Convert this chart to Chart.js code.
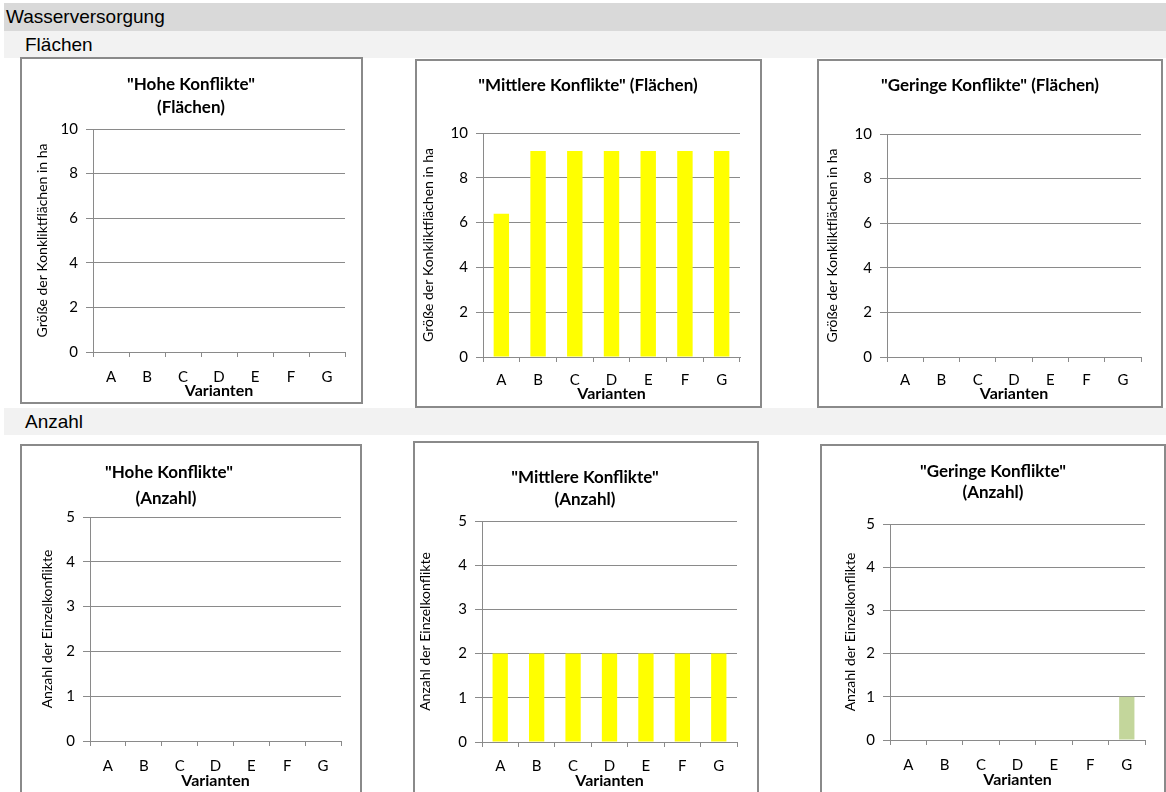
<!DOCTYPE html>
<html lang="de">
<head>
    <meta charset="UTF-8">
    <title>Wasserversorgung</title>
    <script src="https://cdn.jsdelivr.net/npm/chart.js"></script>
    <style>
        html, body { margin: 0; padding: 0; background: #fff; }
        body { width: 1166px; height: 792px; position: relative; overflow: hidden; font-family: "Liberation Sans", Arial, sans-serif; }
        .band { position: absolute; left: 4px; width: 1162px; color: #000; box-sizing: border-box; }
        .band.main { top: 3px; height: 28px; background: #d9d9d9; font-size: 19px; line-height: 28px; padding-left: 2px; }
        .band.sub { height: 27px; background: #f2f2f2; font-size: 19px; line-height: 27px; padding-left: 21px; }
        .panel { position: absolute; border: 2px solid #8a8a8a; box-sizing: border-box; background: #fff; }
        .panel canvas { position: absolute; left: -2px; top: -2px; }
    </style>
</head>
<body>
    <div class="band main">Wasserversorgung</div>
    <div class="band sub" style="top:31px">Flächen</div>
    <div class="band sub" style="top:408px">Anzahl</div>

    <div class="panel" id="p1"><canvas id="c1"></canvas></div>
    <div class="panel" id="p2"><canvas id="c2"></canvas></div>
    <div class="panel" id="p3"><canvas id="c3"></canvas></div>
    <div class="panel" id="p4"><canvas id="c4"></canvas></div>
    <div class="panel" id="p5"><canvas id="c5"></canvas></div>
    <div class="panel" id="p6"><canvas id="c6"></canvas></div>

    <script>
    // Daten
    const varianten = ['A', 'B', 'C', 'D', 'E', 'F', 'G'];

    const hoheFlaechen     = [0, 0, 0, 0, 0, 0, 0];
    const mittlereFlaechen = [6.4, 9.2, 9.2, 9.2, 9.2, 9.2, 9.2];
    const geringeFlaechen  = [0, 0, 0, 0, 0, 0, 0];

    const hoheAnzahl     = [0, 0, 0, 0, 0, 0, 0];
    const mittlereAnzahl = [2, 2, 2, 2, 2, 2, 2];
    const geringeAnzahl  = [0, 0, 0, 0, 0, 0, 1];

    const ticksFlaechen = [0, 2, 4, 6, 8, 10];
    const ticksAnzahl   = [0, 1, 2, 3, 4, 5];

    const FONT = 'Lato, "Open Sans", sans-serif';
    const GRID = '#8a8a8a';
    const TICK_SIZE = 15;
    const XTITLE_SIZE = 16;
    const YTITLE_SIZE = 14;
    const TITLE_SIZE = 17;

    // box = [x, y, w, h], plot = [left, top, right, bottom] (Seitenkoordinaten)
    const panels = [
        { id: 1, box: [20, 57, 343, 347], plot: [93, 129, 345, 352],
          title: ['"Hohe Konflikte"', '(Flächen)'], tx: [191, 191], ty: [85, 108],
          yTitle: 'Größe der Konkliktflächen in ha', yTitleX: 42, labelsY: 377, xTitleY: 391,
          data: hoheFlaechen, color: '#ffff00', ticks: ticksFlaechen },
        { id: 2, box: [415, 59, 347, 349], plot: [483, 133, 740, 357],
          title: ['"Mittlere Konflikte" (Flächen)'], tx: [588], ty: [86],
          yTitle: 'Größe der Konkliktflächen in ha', yTitleX: 428, labelsY: 380, xTitleY: 394,
          data: mittlereFlaechen, color: '#ffff00', ticks: ticksFlaechen },
        { id: 3, box: [817, 59, 346, 349], plot: [887, 134, 1141, 357],
          title: ['"Geringe Konflikte" (Flächen)'], tx: [990], ty: [86],
          yTitle: 'Größe der Konkliktflächen in ha', yTitleX: 832, labelsY: 380, xTitleY: 394,
          data: geringeFlaechen, color: '#c3d69b', ticks: ticksFlaechen },
        { id: 4, box: [20, 444, 342, 352], plot: [90, 517, 341, 741],
          title: ['"Hohe Konflikte"', '(Anzahl)'], tx: [169, 166], ty: [473, 499],
          yTitle: 'Anzahl der Einzelkonflikte', yTitleX: 47, labelsY: 766, xTitleY: 781,
          data: hoheAnzahl, color: '#ffff00', ticks: ticksAnzahl },
        { id: 5, box: [413, 441, 346, 355], plot: [482, 521, 737, 742],
          title: ['"Mittlere Konflikte"', '(Anzahl)'], tx: [585, 585], ty: [478, 500],
          yTitle: 'Anzahl der Einzelkonflikte', yTitleX: 425, labelsY: 766, xTitleY: 781,
          data: mittlereAnzahl, color: '#ffff00', ticks: ticksAnzahl },
        { id: 6, box: [820, 444, 346, 352], plot: [890, 524, 1145, 740],
          title: ['"Geringe Konflikte"', '(Anzahl)'], tx: [993, 993], ty: [472, 493],
          yTitle: 'Anzahl der Einzelkonflikte', yTitleX: 850, labelsY: 765, xTitleY: 780,
          data: geringeAnzahl, color: '#c3d69b', ticks: ticksAnzahl }
    ];

    // Diagrammtitel an fester Stelle zeichnen
    const boxTitle = {
        id: 'boxTitle',
        afterDraw(chart, args, opts) {
            const ctx = chart.ctx;
            ctx.save();
            ctx.font = 'bold ' + TITLE_SIZE + 'px ' + FONT;
            ctx.fillStyle = '#000';
            ctx.textAlign = 'center';
            ctx.textBaseline = 'middle';
            opts.lines.forEach((t, i) => ctx.fillText(t, opts.x[i], opts.y[i]));
            ctx.restore();
        }
    };

    function makeChart(p) {
        const [bx, by, bw, bh] = p.box;
        const [l, t, r, b] = p.plot;
        const panel = document.getElementById('p' + p.id);
        panel.style.left = bx + 'px';
        panel.style.top = by + 'px';
        panel.style.width = bw + 'px';
        panel.style.height = bh + 'px';

        const canvas = document.getElementById('c' + p.id);
        canvas.width = bw;
        canvas.height = bh;
        canvas.style.width = bw + 'px';
        canvas.style.height = bh + 'px';

        const padLeft = p.yTitleX - bx - YTITLE_SIZE * 0.6;
        const yWidth = l - bx - padLeft;
        const xHeight = by + bh - b;
        const tickLen = 5;

        new Chart(canvas.getContext('2d'), {
            type: 'bar',
            data: {
                labels: varianten,
                datasets: [{
                    data: p.data,
                    backgroundColor: p.color,
                    borderWidth: 0,
                    barPercentage: 0.42,
                    categoryPercentage: 1
                }]
            },
            plugins: [boxTitle],
            options: {
                responsive: false,
                animation: false,
                devicePixelRatio: 1,
                layout: { padding: { left: padLeft, right: bx + bw - r, top: t - by, bottom: 0 } },
                plugins: {
                    legend: { display: false },
                    tooltip: { enabled: false },
                    boxTitle: {
                        lines: p.title,
                        x: p.tx.map(v => v - bx),
                        y: p.ty.map(v => v - by)
                    }
                },
                scales: {
                    x: {
                        grid: { display: true, drawOnChartArea: false, drawTicks: true, tickLength: tickLen, color: GRID, offset: true },
                        border: { display: true, color: GRID },
                        ticks: { color: '#000', font: { family: FONT, size: TICK_SIZE }, padding: p.labelsY - b - tickLen - TICK_SIZE * 0.6 },
                        title: {
                            display: true, text: 'Varianten', color: '#000',
                            font: { family: FONT, size: XTITLE_SIZE, weight: 'bold' },
                            padding: { top: 0, bottom: by + bh - p.xTitleY - XTITLE_SIZE * 0.6 }
                        },
                        afterFit: s => { s.height = xHeight; }
                    },
                    y: {
                        min: p.ticks[0],
                        max: p.ticks[p.ticks.length - 1],
                        grid: { color: GRID, tickLength: 7, drawTicks: true },
                        border: { display: true, color: GRID },
                        ticks: { stepSize: p.ticks[1] - p.ticks[0], color: '#000', font: { family: FONT, size: TICK_SIZE }, padding: 8 },
                        title: {
                            display: true, text: p.yTitle, color: '#000',
                            font: { family: FONT, size: YTITLE_SIZE },
                            padding: 0
                        },
                        afterFit: s => { s.width = yWidth; }
                    }
                }
            }
        });
    }

    window.onload = () => {
        panels.forEach(makeChart);
    };
    </script>
</body>
</html>
